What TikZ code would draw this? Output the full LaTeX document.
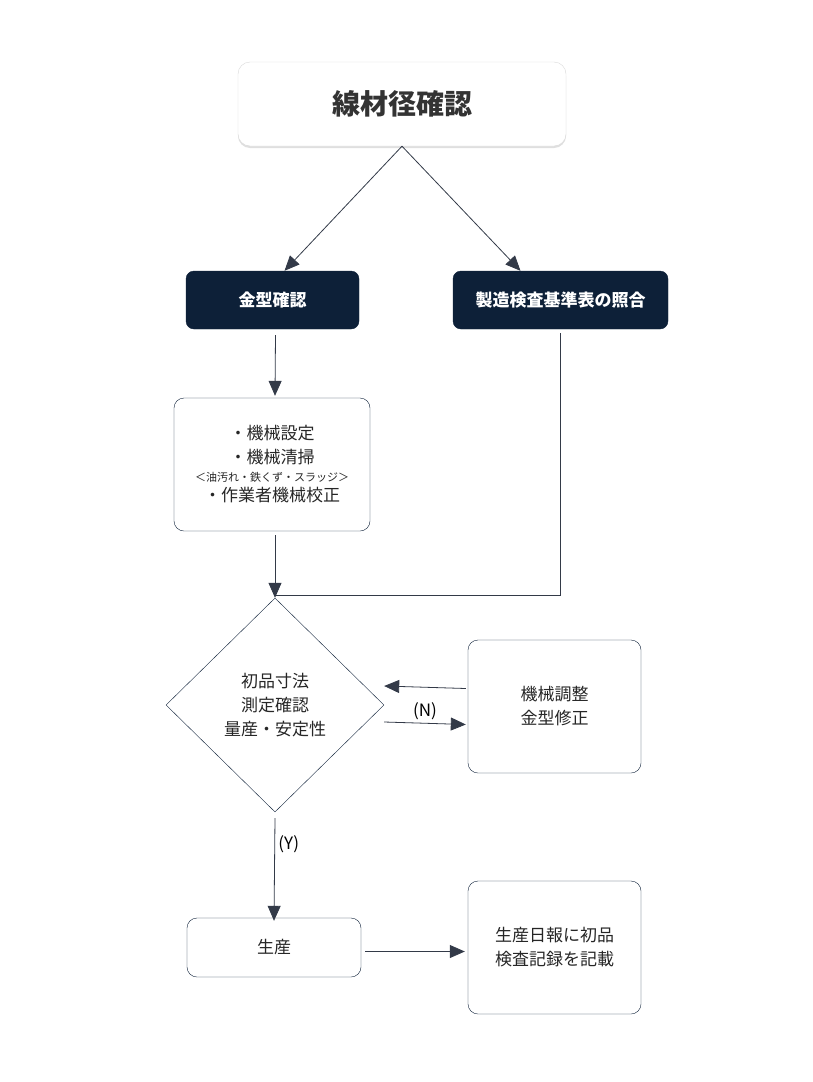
\documentclass[tikz,border=0pt]{standalone}
\usepackage{fontspec}
\setmainfont{Noto Sans CJK JP}
\usetikzlibrary{shapes.geometric, arrows.meta, shadows, positioning}
\definecolor{navy}{HTML}{0D2038}
\definecolor{edge}{HTML}{333A48}
\tikzset{
  flow/.style = {-{Triangle[width=13pt,length=15pt]}, draw=edge, line width=0.8pt},
  dark/.style = {draw=navy, fill=navy, rounded corners=8pt, text=white, font=\bfseries\fontsize{17}{20}\selectfont},
  plain/.style = {draw=navy, fill=white, rounded corners=10pt, align=center, font=\fontsize{17}{24}\selectfont, text=black!85},
}
\begin{document}
\begin{tikzpicture}[x=1pt, y=-1pt]
  \useasboundingbox (0,0) rectangle (812,1082);
  \node (wire) [draw=black!15, fill=white, rounded corners=12pt, drop shadow={opacity=0.25, shadow xshift=0pt, shadow yshift=-2pt},
                minimum width=328pt, minimum height=84pt, font=\bfseries\fontsize{28}{32}\selectfont, text=black!80] at (402,104) {線材径確認};
  \node (mold) [dark, minimum width=173pt, minimum height=58pt] at (272.5,300) {金型確認};
  \node (std) [dark, minimum width=215pt, minimum height=58pt] at (560.5,300) {製造検査基準表の照合};
  \node (setup) [plain, minimum width=196pt, minimum height=133pt] at (272,464.5)
        {・機械設定\\・機械清掃\\[-6pt]{\fontsize{11}{14}\selectfont ＜油汚れ・鉄くず・スラッジ＞}\\[-4pt]・作業者機械校正};
  \node (check) [diamond, draw=navy, fill=white, minimum width=218pt, minimum height=214pt, inner sep=1pt,
                 align=center, font=\fontsize{17}{24}\selectfont, text=black!85] at (275,705)
        {初品寸法\\測定確認\\量産・安定性};
  \node (adjust) [plain, minimum width=173pt, minimum height=133pt] at (554.5,706.5) {機械調整\\金型修正};
  \node (prod) [plain, minimum width=174pt, minimum height=59pt] at (274,947.5) {生産};
  \node (log) [plain, minimum width=173pt, minimum height=133pt] at (554.5,947.5) {生産日報に初品\\検査記録を記載};
  \coordinate (join) at (275,595);

  \draw[flow] (wire.south) -- ([xshift=12pt]mold.north);
  \draw[flow] (wire.south) -- ([xshift=-40pt]std.north);
  \draw[flow] ([xshift=3pt, yshift=-6pt]mold.south) -- ([xshift=3pt, yshift=2pt]setup.north);
  \draw[flow] ([xshift=3pt, yshift=-4pt]setup.south) -- (check.north);
  \draw[draw=edge, line width=0.6pt] ([yshift=-4pt]std.south) |- (join);
  \draw[flow] ([yshift=-17pt]check.east) -- node[above, font=\fontsize{17}{20}\selectfont] {(N)} ([xshift=-2pt, yshift=-18pt]adjust.west);
  \draw[flow] ([xshift=-2pt, yshift=18pt]adjust.west) -- ([yshift=19pt]check.east);
  \draw[flow] ([yshift=-6pt]check.south) -- node[pos=0.25, right, font=\fontsize{17}{20}\selectfont] {(Y)} ([yshift=-3pt]prod.north);
  \draw[flow] ([xshift=4pt, yshift=-4pt]prod.east) -- ([xshift=-3pt, yshift=-4pt]log.west);
\end{tikzpicture}
\end{document}
